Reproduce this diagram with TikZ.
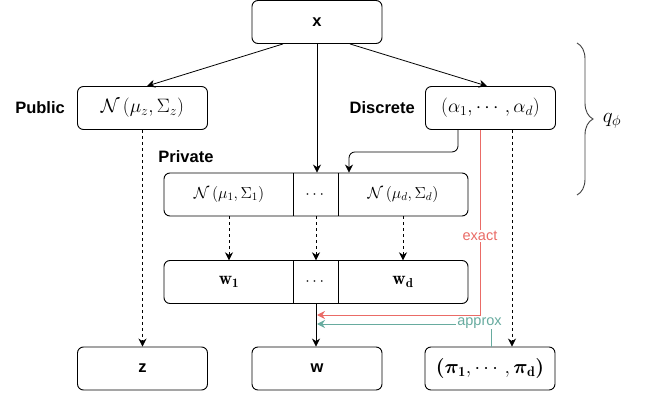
\RequirePackage{fix-cm}
\documentclass[tikz,border=0pt]{standalone}
\usepackage{fontspec}
\usepackage{amsmath,bm}
\newfontfamily\hv{Liberation Sans}
\usetikzlibrary{arrows.meta,decorations.pathreplacing}
\definecolor{exactred}{HTML}{EA6B66}
\definecolor{approxgreen}{HTML}{67AB9F}
\begin{document}
\begin{tikzpicture}[x=1pt,y=-1pt,
  box/.style={draw, rounded corners=6pt, line width=0.9pt, minimum width=130pt, minimum height=43pt, inner sep=0pt, font=\fontsize{19.4}{22}\selectfont},
  cell/.style={minimum height=43pt, inner sep=0pt, font=\fontsize{16}{19}\selectfont},
  sflabel/.style={font=\hv\bfseries\fontsize{16.5}{20}\selectfont, inner sep=0pt},
  arr/.style={-{Stealth[length=8pt,width=8pt]}, line width=0.8pt},
  darr/.style={arr, dashed, dash pattern=on 3pt off 3pt},
  lbl/.style={fill=white, inner sep=1pt, font=\hv\fontsize{14.5}{17}\selectfont}
]
\useasboundingbox (0,0) rectangle (645,395);
% top
\node[box, font=\hv\bfseries\fontsize{16.5}{20}\selectfont] (x) at (317,22) {x};
% second level
\node[box] (pub) at (142.5,108) {$\mathcal{N}\left(\mu_z,\Sigma_z\right)$};
\node[box] (disc) at (490.5,108) {$\left(\alpha_1,\cdots,\alpha_d\right)$};
\node[sflabel, anchor=east] (publbl) at (65,108) {Public};
\node[sflabel, anchor=east] (disclbl) at (415,108) {Discrete};
\node[sflabel] (privlbl) at (186,157) {Private};
% row 1
\node[box, minimum width=304pt] (row1) at (316,194.5) {};
\node[cell, minimum width=130pt] (r1a) at (229,194.5) {$\mathcal{N}\left(\mu_1,\Sigma_1\right)$};
\node[cell, minimum width=44pt] (r1b) at (316,194.5) {$\cdots$};
\node[cell, minimum width=130pt] (r1c) at (403,194.5) {$\mathcal{N}\left(\mu_d,\Sigma_d\right)$};
\draw[line width=0.8pt] (r1b.north west) -- (r1b.south west);
\draw[line width=0.8pt] (r1b.north east) -- (r1b.south east);
% row 2
\node[box, minimum width=304pt] (row2) at (316,282) {};
\node[cell, minimum width=130pt, font=\fontsize{18.5}{22}\selectfont] (r2a) at (229,282) {$\mathbf{w_1}$};
\node[cell, minimum width=44pt] (r2b) at (316,282) {$\cdots$};
\node[cell, minimum width=130pt, font=\fontsize{18.5}{22}\selectfont] (r2c) at (403,282) {$\mathbf{w_d}$};
\draw[line width=0.8pt] (r2b.north west) -- (r2b.south west);
\draw[line width=0.8pt] (r2b.north east) -- (r2b.south east);
% bottom
\node[box, font=\hv\bfseries\fontsize{16.5}{20}\selectfont] (z) at (142.5,368.5) {z};
\node[box, font=\hv\bfseries\fontsize{16.5}{20}\selectfont] (w) at (317,368.5) {w};
\node[box, font=\fontsize{20}{23}\selectfont] (pi) at (490,368.5) {$\boldsymbol{(}\boldsymbol{\pi}_{\mathbf 1},\cdots,\boldsymbol{\pi}_{\mathbf d}\boldsymbol{)}$};
% arrows from x
\draw[arr] ([xshift=-34pt]x.south) -- ([xshift=4.5pt]pub.north);
\draw[arr] (x.south) -- (x.south |- row1.north);
\draw[arr] ([xshift=33pt]x.south) -- ([xshift=-3.5pt]disc.north);
\draw[arr, rounded corners=6pt] ([xshift=-32.5pt]disc.south) -- ++(0,22) -| ([xshift=33pt]row1.north);
% dashed
\draw[darr] (pub.south) -- (z.north);
\draw[darr] (r1a.south) -- (r2a.north);
\draw[darr] (r1b.south) -- (r2b.north);
\draw[darr] (r1c.south) -- (r2c.north);
\draw[darr] ([xshift=21.5pt]disc.south) -- ([xshift=21.5pt]disc.south |- pi.north);
% to w
\draw[arr] (r2b.south) -- (r2b.south |- w.north);
% exact
\coordinate (redturn) at (480,315);
\draw[arr, exactred] (disc.south -| redturn) -- (redturn) -- (redturn -| w.north);
\node[lbl, text=exactred] (exactlbl) at (480,236) {exact};
% approx
\coordinate (gturn) at (491,324);
\draw[arr, approxgreen] (pi.north -| gturn) -- (gturn) -- (gturn -| w.north);
\node[lbl, text=approxgreen] (approxlbl) at (479.5,323) {approx};
% brace
\draw[decorate, decoration={brace, amplitude=16pt}, black!75, line width=0.9pt] (577,43) -- (577,195);
\node[font=\fontsize{21}{24}\selectfont, inner sep=0pt] (q) at (612,121) {$q_\phi$};
\end{tikzpicture}
\end{document}
